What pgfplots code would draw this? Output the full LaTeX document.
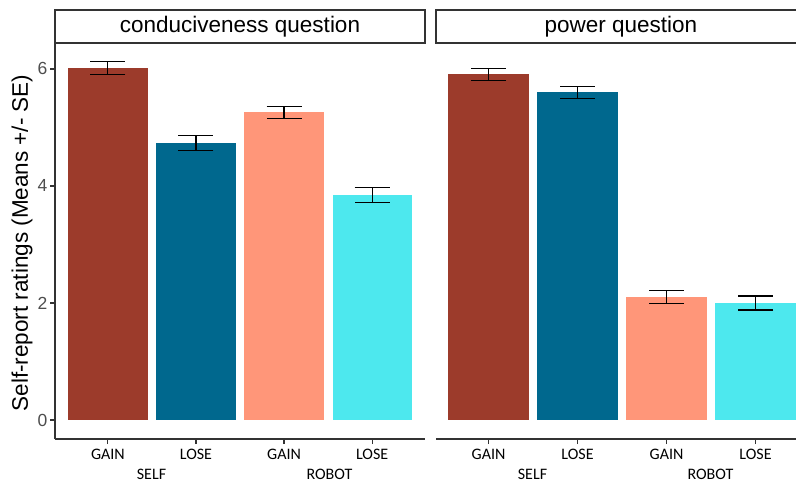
\documentclass[border=0pt]{standalone}
\usepackage{pgfplots}
\pgfplotsset{compat=1.18}
\usepackage{fontspec}
\setmainfont{Liberation Sans}
\newfontfamily\carlito{Carlito}
\definecolor{cRed}{HTML}{9C3B2B}
\definecolor{cBlue}{HTML}{00688E}
\definecolor{cSalmon}{HTML}{FF9679}
\definecolor{cCyan}{HTML}{4DE8EE}
\definecolor{tickgray}{HTML}{4D4D4D}
\definecolor{axisgray}{HTML}{333333}
\pgfplotsset{
  panel/.style={
    scale only axis, height=396pt, ymin=-0.325, ymax=6.444,
    anchor=south west,
    axis x line*=bottom,
    x axis line style={axisgray, line width=1.1pt, -},
    xtick={0,1,2,3}, xticklabels={GAIN,LOSE,GAIN,LOSE},
    xticklabel style={font=\carlito\fontsize{16}{18}\selectfont, text=black, yshift=-2pt},
    major tick length=5pt,
    xtick style={axisgray, line width=1.1pt},
    tick align=outside,
    ybar, bar width=0.9, bar shift=0pt,
  },
  eb/.style={
    error bars/y dir=both, error bars/y explicit,
    error bars/error bar style={line width=1.1pt, black},
    error bars/error mark options={line width=1.1pt, mark size=17.5pt, black, rotate=90},
  },
}
\begin{document}
\begin{tikzpicture}[x=1pt,y=1pt]
\useasboundingbox (0,0) rectangle (796,483);
% left panel
\begin{axis}[panel, at={(55pt,44pt)}, width=370pt, xmin=-0.6, xmax=3.6,
  axis y line*=left,
  y axis line style={axisgray, line width=1.1pt, -},
  ytick={0,2,4,6},
  ytick style={axisgray, line width=1.1pt},
  yticklabel style={font=\fontsize{17.5}{19}\selectfont, text=tickgray, xshift=1pt},
  /pgf/number format/assume math mode=true,
]
\addplot[fill=cRed, draw=none, eb] coordinates {(0,6.02) +- (0,0.11)};
\addplot[fill=cBlue, draw=none, eb] coordinates {(1,4.74) +- (0,0.13)};
\addplot[fill=cSalmon, draw=none, eb] coordinates {(2,5.26) +- (0,0.10)};
\addplot[fill=cCyan, draw=none, eb] coordinates {(3,3.85) +- (0,0.13)};
\end{axis}
% right panel
\begin{axis}[panel, at={(436pt,44pt)}, width=360pt, xmin=-0.59, xmax=3.455,
  axis y line=none,
]
\addplot[fill=cRed, draw=none, eb] coordinates {(0,5.91) +- (0,0.10)};
\addplot[fill=cBlue, draw=none, eb] coordinates {(1,5.60) +- (0,0.10)};
\addplot[fill=cSalmon, draw=none, eb] coordinates {(2,2.10) +- (0,0.11)};
\addplot[fill=cCyan, draw=none, eb] coordinates {(3,2.00) +- (0,0.12)};
\end{axis}
% strips
\draw[axisgray, line width=1.1pt] (55,440) rectangle (425,473);
\draw[axisgray, line width=1.1pt] (436,440) rectangle (806,473);
\node[font=\fontsize{22.5}{24}\selectfont, text=black] at (240,456.5) {conduciveness question};
\node[font=\fontsize{22.5}{24}\selectfont, text=black] at (621,456.5) {power question};
% group labels
\node[font=\carlito\fontsize{16}{18}\selectfont] at (151.5,8.5) {SELF};
\node[font=\carlito\fontsize{16}{18}\selectfont] at (329.5,8.5) {ROBOT};
\node[font=\carlito\fontsize{16}{18}\selectfont] at (532.5,8.5) {SELF};
\node[font=\carlito\fontsize{16}{18}\selectfont] at (710.5,8.5) {ROBOT};
% y label
\node[rotate=90, font=\fontsize{22.5}{24}\selectfont] at (22,240) {Self-report ratings (Means +/- SE)};
\end{tikzpicture}
\end{document}
